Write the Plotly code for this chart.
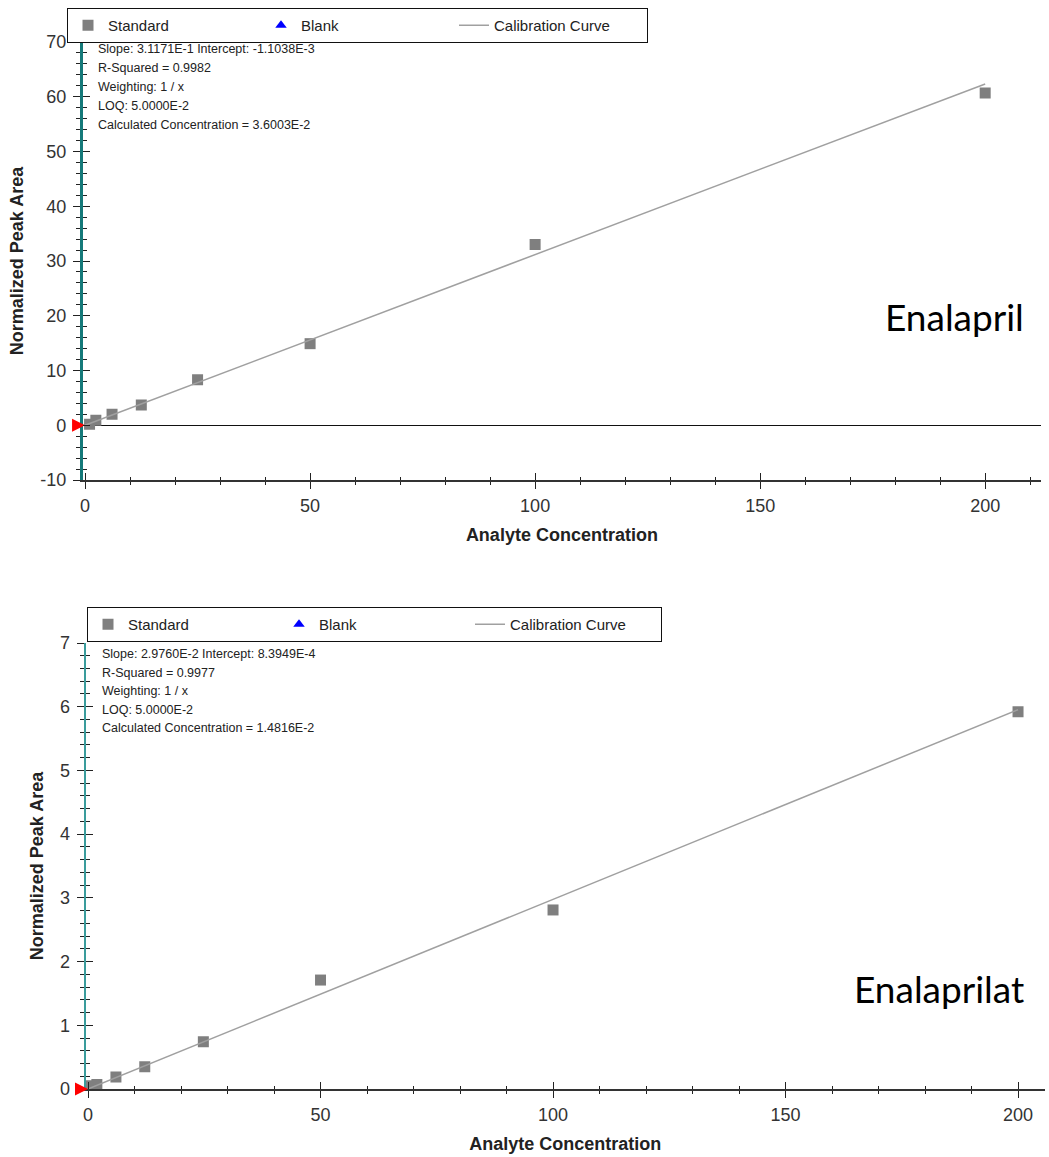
import plotly.graph_objects as go

W, H = 1049, 1157

# ---------------- data ----------------
# Enalapril (top)
ena_conc = [1.0, 2.4, 6.0, 12.5, 25, 50, 100, 200]
ena_area = [0.2, 0.9, 2.0, 3.7, 8.3, 14.9, 33.0, 60.7]
ena_curve_x = [0, 200]
ena_curve_y = [-0.0011, 62.34]
ena_sample_x = [0]
ena_sample_y = [0.011]
ena_stats = ["Slope: 3.1171E-1 Intercept: -1.1038E-3", "R-Squared = 0.9982",
             "Weighting: 1 / x", "LOQ: 5.0000E-2", "Calculated Concentration = 3.6003E-2"]
ena_yticks = [-10, 0, 10, 20, 30, 40, 50, 60, 70]
ena_yticktext = ["-10", "0", "10", "20", "30", "40", "50", "60", "70"]

# Enalaprilat (bottom)
enat_conc = [0.7, 1.9, 6.0, 12.2, 24.8, 50, 100, 200]
enat_area = [0.05, 0.07, 0.19, 0.35, 0.74, 1.71, 2.81, 5.92]
enat_curve_x = [0, 200]
enat_curve_y = [0.00084, 5.953]
enat_sample_x = [0]
enat_sample_y = [0.0013]
enat_stats = ["Slope: 2.9760E-2 Intercept: 8.3949E-4", "R-Squared = 0.9977",
              "Weighting: 1 / x", "LOQ: 5.0000E-2", "Calculated Concentration = 1.4816E-2"]
enat_yticks = [0, 1, 2, 3, 4, 5, 6, 7]
enat_yticktext = ["0", "1", "2", "3", "4", "5", "6", "7"]

legend_names = ["Standard", "Blank", "Calibration Curve"]

FONT = "Liberation Sans, Arial, sans-serif"
GRAY_MK = "#7f7f7f"
LINE_C = "#a0a0a0"


def px_x(p):
    return p / W


def px_y(p):
    return 1 - p / H


fig = go.Figure()


def add_panel(xa, ya, legend, conc, area, cx, cy, sx, sy):
    fig.add_trace(go.Scatter(x=conc, y=area, mode="markers", name=legend_names[0],
                             marker=dict(symbol="square", size=11, color=GRAY_MK),
                             xaxis=xa, yaxis=ya, legend=legend))
    fig.add_trace(go.Scatter(x=[None], y=[None], mode="markers", name=legend_names[1],
                             marker=dict(symbol="triangle-up", size=10, color="#0000ff"),
                             xaxis=xa, yaxis=ya, legend=legend))
    fig.add_trace(go.Scatter(x=cx, y=cy, mode="lines", name=legend_names[2],
                             line=dict(color=LINE_C, width=1.5),
                             xaxis=xa, yaxis=ya, legend=legend))
    fig.add_trace(go.Scatter(x=sx, y=sy, mode="markers", showlegend=False,
                             marker=dict(symbol="arrow-right", size=13, color="#ff0000",
                                         line=dict(width=0)),
                             cliponaxis=False, xaxis=xa, yaxis=ya))


add_panel("x", "y", "legend", ena_conc, ena_area, ena_curve_x, ena_curve_y, ena_sample_x, ena_sample_y)
add_panel("x2", "y2", "legend2", enat_conc, enat_area, enat_curve_x, enat_curve_y, enat_sample_x, enat_sample_y)

tickfont = dict(family=FONT, size=18, color="#333333")
titlefont = dict(family=FONT, size=18, color="#222222", weight="bold")


def xaxis_main(dom, rng, anchor):
    return dict(domain=dom, range=rng, anchor=anchor, showgrid=False, zeroline=False,
                automargin=False, layer="below traces",
                showline=True, linecolor="#333333", linewidth=1.5,
                tickmode="linear", tick0=0, dtick=50, ticks="outside", ticklen=7,
                tickcolor="#222222", tickwidth=1.3, tickfont=tickfont, ticklabelstandoff=2,
                minor=dict(dtick=10, ticks="outside", ticklen=3, tickcolor="#222222", tickwidth=1.2),
                title=dict(text="Analyte Concentration", font=titlefont, standoff=13))


def xaxis_over(over, rng, anchor):
    return dict(overlaying=over, range=rng, anchor=anchor, showgrid=False, zeroline=False,
                automargin=False,
                showline=False, showticklabels=False, tickmode="linear", tick0=0, dtick=50,
                ticks="inside", ticklen=7, tickcolor="#222222", tickwidth=1.3,
                minor=dict(dtick=10, ticks="inside", ticklen=3, tickcolor="#222222", tickwidth=1.2))


def yaxis_main(dom, rng, anchor, tv, tt, mdt, zl, lc, lw):
    return dict(domain=dom, range=rng, anchor=anchor, showgrid=False,
                automargin=False, layer="below traces",
                zeroline=zl, zerolinecolor="#111111", zerolinewidth=1.2,
                showline=True, linecolor=lc, linewidth=lw,
                tickmode="array", tickvals=tv, ticktext=tt, ticks="outside", ticklen=7,
                tickcolor="#222222", tickwidth=1.3, tickfont=tickfont, ticklabelstandoff=3,
                minor=dict(tick0=0, dtick=mdt, ticks="outside", ticklen=4, tickcolor="#222222", tickwidth=1.2),
                title=dict(text="Normalized Peak Area", font=titlefont, standoff=12))


def yaxis_over(over, rng, anchor, tv, mdt):
    return dict(overlaying=over, range=rng, anchor=anchor, showgrid=False, zeroline=False,
                automargin=False,
                showline=False, showticklabels=False, tickmode="array", tickvals=tv,
                ticks="inside", ticklen=7, tickcolor="#222222", tickwidth=1.3,
                minor=dict(tick0=0, dtick=mdt, ticks="inside", ticklen=4, tickcolor="#222222", tickwidth=1.2))


x1r = [-0.5, 212.4]
y1r = [-10, 70]
x2r = [-0.5, 205.8]
y2r = [0, 7]

x1dom = [px_x(82.8), px_x(1041)]
y1dom = [px_y(480), px_y(42)]
x2dom = [px_x(85.7), px_x(1045)]
y2dom = [px_y(1089), px_y(643)]

legend_common = dict(orientation="h", xanchor="left", yanchor="top",
                     bordercolor="#111111", borderwidth=1, bgcolor="white",
                     font=dict(family=FONT, size=15, color="#222222"),
                     entrywidthmode="pixels", itemsizing="trace")

fig.update_layout(
    width=W, height=H,
    margin=dict(l=0, r=0, t=0, b=0, autoexpand=False),
    paper_bgcolor="white", plot_bgcolor="white",
    font=dict(family=FONT, color="#222222"),
    xaxis=xaxis_main(x1dom, x1r, "y"),
    yaxis=yaxis_main(y1dom, y1r, "x", ena_yticks, ena_yticktext, 2, True, "#157a7a", 3),
    xaxis2=xaxis_main(x2dom, x2r, "y2"),
    yaxis2=yaxis_main(y2dom, y2r, "x2", enat_yticks, enat_yticktext, 0.2, False, "#3a9c9c", 2),
    xaxis3=xaxis_over("x", x1r, "y"),
    yaxis3=yaxis_over("y", y1r, "x", ena_yticks, 2),
    xaxis4=xaxis_over("x2", x2r, "y2"),
    yaxis4=yaxis_over("y2", y2r, "x2", enat_yticks, 0.2),
    legend=dict(x=px_x(67), y=px_y(8), entrywidth=148, **legend_common),
    legend2=dict(x=px_x(87), y=px_y(607), entrywidth=146, **legend_common),
    showlegend=True,
)

# traces to activate overlay axes (no visible marks)
fig.add_trace(go.Scatter(x=[None], y=[None], xaxis="x3", yaxis="y3", showlegend=False, hoverinfo="skip"))
fig.add_trace(go.Scatter(x=[None], y=[None], xaxis="x4", yaxis="y4", showlegend=False, hoverinfo="skip"))

annots = []
for i, s in enumerate(ena_stats):
    annots.append(dict(text=s, xref="paper", yref="paper", x=px_x(96), y=px_y(49 + 19 * i),
                       xanchor="left", yanchor="middle", showarrow=False,
                       font=dict(family=FONT, size=12.5, color="#222222")))
for i, s in enumerate(enat_stats):
    annots.append(dict(text=s, xref="paper", yref="paper", x=px_x(100), y=px_y(654 + 18.5 * i),
                       xanchor="left", yanchor="middle", showarrow=False,
                       font=dict(family=FONT, size=12.5, color="#222222")))
annots.append(dict(text="Enalapril", xref="paper", yref="paper", x=px_x(954), y=px_y(316),
                   xanchor="center", yanchor="middle", showarrow=False,
                   font=dict(family="Lato, sans-serif", size=37, color="#000000")))
annots.append(dict(text="Enalaprilat", xref="paper", yref="paper", x=px_x(939), y=px_y(988),
                   xanchor="center", yanchor="middle", showarrow=False,
                   font=dict(family="Lato, sans-serif", size=37, color="#000000")))
fig.update_layout(annotations=annots)

fig.write_html("out.html")
